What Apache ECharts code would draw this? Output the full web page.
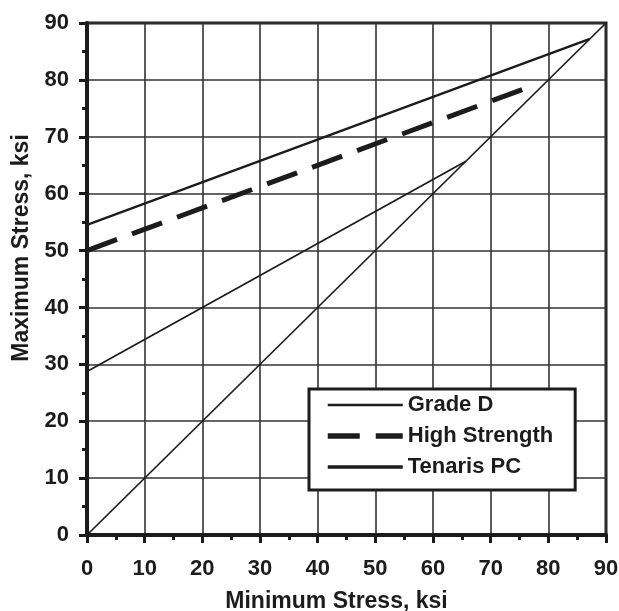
<!DOCTYPE html>
<html>
<head>
<meta charset="utf-8">
<script src="https://cdn.jsdelivr.net/npm/echarts@6/dist/echarts.min.js"></script>
<style>
  html, body { margin: 0; padding: 0; background: #fff; }
  #chart { width: 619px; height: 611px; }
</style>
</head>
<body>
<div id="chart"></div>
<script>
// Data (ksi)
const xTicks = [0, 10, 20, 30, 40, 50, 60, 70, 80, 90];
const yTicks = [0, 10, 20, 30, 40, 50, 60, 70, 80, 90];
const seriesNames = ['Grade D', 'High Strength', 'Tenaris PC'];
const gradeD = [[0, 28.75], [65.7, 65.7]];
const highStrength = [[0, 50], [77.6, 79.1]];
const tenarisPC = [[0, 54.5], [87.2, 87.2]];
const diagonal = [[0, 0], [90, 90]];

const FONT = '"Liberation Sans", Arial, sans-serif';
const INK = '#1c1c1c';

const lineStyles = {
  'Grade D': { color: INK, width: 1.7, type: 'solid' },
  'High Strength': { color: INK, width: 5, type: [32, 16] },
  'Tenaris PC': { color: INK, width: 2.4, type: 'solid' }
};
const legendWidths = { 'Grade D': 2.4, 'High Strength': 5.5, 'Tenaris PC': 3.4 };

const chart = echarts.init(document.getElementById('chart'), null, { renderer: 'canvas' });

function axisCommon(ticks, nameText) {
  return {
    type: 'value',
    min: ticks[0],
    max: ticks[ticks.length - 1],
    interval: ticks[1] - ticks[0],
    name: nameText,
    nameLocation: 'middle',
    axisLine: { show: true, onZero: false, lineStyle: { color: INK, width: 4 } },
    axisTick: { show: true, inside: false, length: 8, lineStyle: { color: INK, width: 3 } },
    minorTick: { show: true, splitNumber: 2, length: 5, lineStyle: { color: INK, width: 3 } },
    splitLine: { show: true, lineStyle: { color: '#333', width: 1.6 } },
    axisLabel: {
      color: INK, fontFamily: FONT, fontWeight: 'bold', fontSize: 22,
      formatter: v => String(v)
    }
  };
}

const xAxis = axisCommon(xTicks, 'Minimum Stress, ksi');
xAxis.nameGap = 55;
xAxis.nameTextStyle = { color: INK, fontFamily: FONT, fontWeight: 'bold', fontSize: 23, padding: [0, 20, 0, 0] };
xAxis.axisLabel.margin = 23;

const yAxis = axisCommon(yTicks, 'Maximum Stress, ksi');
yAxis.nameGap = 50;
yAxis.nameTextStyle = { color: INK, fontFamily: FONT, fontWeight: 'bold', fontSize: 23, padding: [0, 0, 0, 62] };
yAxis.axisLabel.margin = 18;

const option = {
  backgroundColor: '#fff',
  animation: false,
  grid: {
    left: 87, top: 23, right: 13, bottom: 76,
    outerBoundsMode: 'none',
    containLabel: false,
    show: true, borderColor: INK, borderWidth: 3, backgroundColor: 'transparent'
  },
  xAxis: xAxis,
  yAxis: yAxis,
  legend: {
    show: true,
    data: seriesNames.map(n => ({
      name: n,
      lineStyle: { color: INK, width: legendWidths[n], type: lineStyles[n].type },
      itemStyle: { opacity: 0 }
    })),
    orient: 'vertical',
    left: 309, top: 389,
    padding: [5, 22, 12, 16],
    itemWidth: 75, itemHeight: 14, itemGap: 9,
    backgroundColor: '#fff',
    borderColor: INK, borderWidth: 3,
    textStyle: { color: INK, fontFamily: FONT, fontWeight: 'bold', fontSize: 22, lineHeight: 22 },
    selectedMode: false
  },
  series: [
    {
      name: 'Grade D', type: 'line', data: gradeD, symbol: 'none',
      lineStyle: lineStyles['Grade D'], itemStyle: { color: INK }
    },
    {
      name: 'High Strength', type: 'line', data: highStrength, symbol: 'none',
      lineStyle: lineStyles['High Strength'], itemStyle: { color: INK }
    },
    {
      name: 'Tenaris PC', type: 'line', data: tenarisPC, symbol: 'none',
      lineStyle: lineStyles['Tenaris PC'], itemStyle: { color: INK }
    },
    {
      name: 'diagonal', type: 'line', data: diagonal, symbol: 'none',
      lineStyle: { color: INK, width: 1.7 }, itemStyle: { color: INK }
    }
  ]
};
chart.setOption(option);
</script>
</body>
</html>
